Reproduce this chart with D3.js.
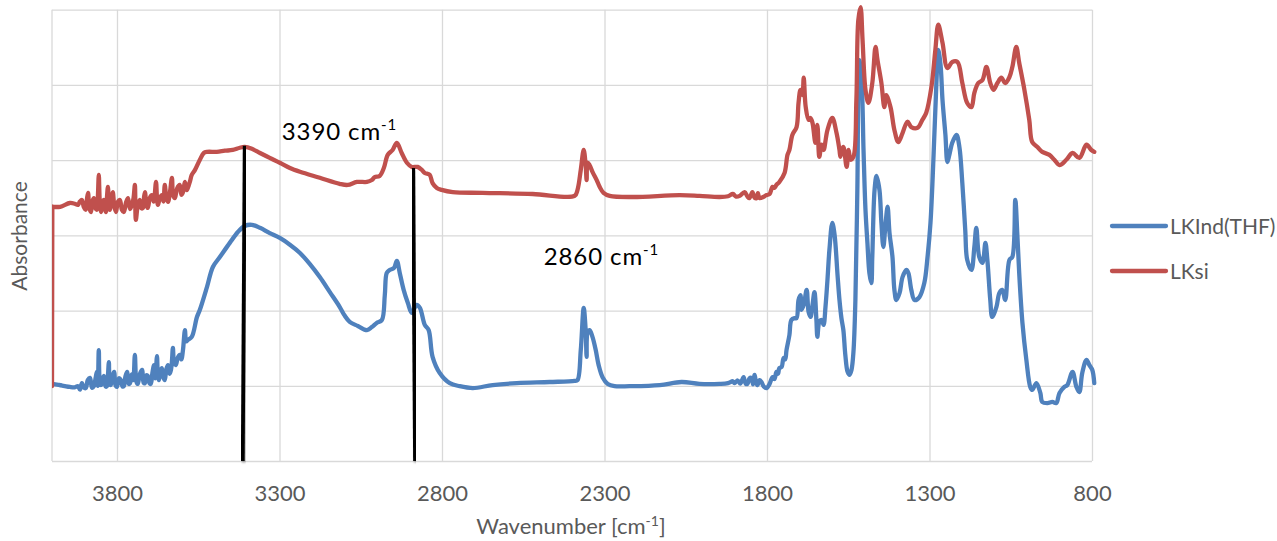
<!DOCTYPE html>
<html>
<head>
<meta charset="utf-8">
<script src="https://cdn.jsdelivr.net/npm/d3@7"></script>
<style>
  html, body { margin: 0; padding: 0; background: #fff; }
  svg { display: block; font-family: Lato, "Open Sans", sans-serif; }
</style>
</head>
<body>
<svg id="chart" width="1277" height="541"></svg>
<script>
// IR spectra: [wavenumber (cm-1), absorbance (a.u., offset for display)]
const lkInd = [
  [4000,0.205],[3975,0.202],[3945,0.197],[3930,0.196],
  [3920,0.199],[3914,0.190],[3908,0.207],[3902,0.195],[3896,0.194],[3890,0.215],[3883,0.221],[3877,0.195],
  [3871,0.199],[3866,0.220],[3862,0.237],[3859,0.200],[3856,0.295],[3852,0.205],[3849,0.202],[3844,0.220],
  [3840,0.226],[3835,0.198],[3831,0.199],[3828,0.225],[3825,0.263],[3822,0.205],[3819,0.202],[3814,0.225],
  [3809,0.237],[3804,0.200],[3800,0.197],[3794,0.220],[3788,0.215],[3783,0.198],[3779,0.199],[3774,0.225],
  [3769,0.237],[3764,0.205],[3760,0.207],[3755,0.230],[3750,0.215],[3745,0.282],[3740,0.210],[3736,0.205],
  [3730,0.230],[3723,0.242],[3718,0.208],[3714,0.207],[3709,0.228],[3705,0.226],[3700,0.207],[3696,0.205],
  [3691,0.235],[3686,0.255],[3682,0.220],[3677,0.279],[3674,0.225],[3671,0.215],[3666,0.240],[3662,0.247],
  [3657,0.222],[3653,0.215],[3648,0.245],[3643,0.255],[3638,0.232],[3634,0.242],[3631,0.265],[3628,0.301],
  [3624,0.260],[3619,0.255],[3613,0.275],[3607,0.282],[3602,0.270],[3597,0.295],[3591,0.348],[3587,0.318],
  [3582,0.322],
  [3570,0.330],[3554,0.383],[3545,0.402],[3523,0.463],[3505,0.516],[3483,0.543],[3453,0.580],[3428,0.609],
  [3407,0.625],[3385,0.628],[3360,0.620],[3330,0.606],[3299,0.593],[3268,0.575],[3237,0.553],[3207,0.524],
  [3176,0.489],[3145,0.449],[3115,0.410],[3099,0.386],[3084,0.370],[3059,0.359],[3031,0.348],[3016,0.356],
  [3001,0.367],[2985,0.375],[2976,0.441],[2970,0.500],[2961,0.508],[2948,0.513],[2939,0.532],[2930,0.500],
  [2918,0.455],[2905,0.420],[2893,0.394],[2878,0.415],[2868,0.407],[2853,0.362],[2841,0.348],[2829,0.277],
  [2807,0.234],[2776,0.207],[2746,0.199],[2705,0.194],[2644,0.202],[2570,0.207],[2469,0.210],[2392,0.213],
  [2383,0.215],[2373,0.295],[2364,0.407],[2358,0.348],[2355,0.277],[2352,0.343],[2346,0.348],[2337,0.330],
  [2327,0.295],[2318,0.255],[2306,0.223],[2290,0.205],[2269,0.199],[2223,0.199],[2130,0.202],[2063,0.210],
  [2008,0.205],[1946,0.205],[1920,0.207],[1905,0.212],[1900,0.207],[1890,0.214],[1882,0.206],[1872,0.223],
  [1866,0.206],[1860,0.205],[1854,0.220],[1848,0.221],[1843,0.204],[1838,0.229],[1833,0.206],[1829,0.202],
  [1823,0.215],[1817,0.210],[1810,0.198],[1801,0.194],[1792,0.205],[1783,0.223],[1777,0.218],[1771,0.237],
  [1766,0.232],[1762,0.247],[1755,0.250],[1749,0.274],[1744,0.270],[1740,0.295],
  [1731,0.335],[1725,0.375],[1715,0.380],[1709,0.380],[1703,0.428],[1697,0.441],[1694,0.402],[1687,0.415],
  [1678,0.455],[1672,0.396],[1666,0.383],[1660,0.415],[1654,0.449],[1648,0.375],[1645,0.330],[1639,0.370],
  [1632,0.375],[1626,0.362],[1620,0.410],[1614,0.481],[1608,0.561],[1599,0.633],[1592,0.601],[1583,0.495],
  [1577,0.428],[1571,0.380],[1565,0.348],[1559,0.282],[1552,0.237],[1546,0.229],[1540,0.242],[1534,0.290],
  [1528,0.428],[1522,0.721],[1516,1.066],[1509,1.013],[1503,0.827],[1497,0.668],[1491,0.580],[1485,0.500],
  [1479,0.473],[1476,0.543],[1469,0.721],[1463,0.758],[1454,0.721],[1448,0.633],[1442,0.569],[1436,0.622],
  [1429,0.676],[1423,0.606],[1414,0.543],[1408,0.455],[1402,0.428],[1392,0.447],[1383,0.489],[1371,0.508],
  [1365,0.500],[1356,0.455],[1346,0.428],[1331,0.436],[1316,0.473],[1306,0.543],[1297,0.633],[1288,0.801],
  [1279,1.000],[1273,1.093],[1266,1.053],[1260,0.960],[1251,0.867],[1245,0.795],[1239,0.814],[1230,0.846],
  [1217,0.867],[1208,0.835],[1199,0.739],[1190,0.614],[1184,0.535],[1171,0.508],[1162,0.569],[1156,0.620],
  [1147,0.543],[1137,0.527],[1128,0.580],[1122,0.535],[1113,0.428],[1107,0.383],[1094,0.410],[1085,0.447],
  [1076,0.455],[1067,0.428],[1054,0.535],[1045,0.543],[1036,0.694],[1030,0.606],[1024,0.500],[1014,0.367],
  [1002,0.269],[990,0.197],[984,0.189],[971,0.207],[959,0.181],[953,0.157],[937,0.154],[922,0.157],
  [910,0.154],[900,0.181],[885,0.197],[876,0.202],[860,0.237],[848,0.197],[839,0.183],[830,0.234],
  [817,0.269],[808,0.255],[799,0.242],[793,0.207]
];

const lkSi = [
  [4000,0.199],[3999,0.676],[3975,0.676],[3945,0.686],[3930,0.684],
  [3920,0.681],[3914,0.690],[3908,0.694],[3902,0.675],[3896,0.668],[3892,0.700],[3889,0.713],[3885,0.672],
  [3880,0.662],[3876,0.690],[3871,0.699],[3866,0.672],[3862,0.668],[3859,0.700],[3856,0.761],[3853,0.690],
  [3849,0.662],[3845,0.688],[3840,0.694],[3837,0.670],[3834,0.662],[3831,0.700],[3828,0.729],[3825,0.685],
  [3822,0.668],[3817,0.700],[3813,0.715],[3808,0.675],[3803,0.662],[3797,0.690],[3791,0.694],[3785,0.668],
  [3779,0.662],[3772,0.688],[3766,0.699],[3760,0.670],[3754,0.681],[3749,0.700],[3745,0.734],[3742,0.641],
  [3736,0.680],[3730,0.694],[3725,0.672],[3720,0.673],[3717,0.700],[3714,0.715],[3709,0.680],[3705,0.673],
  [3699,0.700],[3693,0.707],[3687,0.690],[3680,0.742],[3677,0.700],[3674,0.681],[3668,0.700],[3662,0.707],
  [3657,0.690],[3653,0.734],[3648,0.700],[3643,0.689],[3637,0.715],[3631,0.753],[3627,0.705],[3622,0.699],
  [3615,0.725],[3607,0.734],[3602,0.708],[3597,0.715],[3591,0.742],[3585,0.720],[3579,0.734],[3575,0.745],
  [3570,0.761],[3560,0.774],[3545,0.801],[3533,0.819],[3523,0.822],[3493,0.822],[3468,0.825],
  [3444,0.827],[3422,0.833],[3407,0.835],[3385,0.830],[3360,0.819],[3330,0.806],[3299,0.793],[3268,0.779],
  [3237,0.769],[3176,0.753],[3115,0.737],[3090,0.734],[3062,0.742],[3031,0.742],[3016,0.747],[3007,0.755],
  [2992,0.758],[2979,0.779],[2967,0.814],[2952,0.827],[2939,0.846],[2924,0.819],[2908,0.793],[2893,0.782],
  [2875,0.782],[2862,0.774],[2853,0.766],[2838,0.761],[2829,0.739],[2816,0.726],[2801,0.721],[2767,0.715],
  [2675,0.713],[2521,0.710],[2392,0.705],[2383,0.721],[2373,0.774],[2364,0.827],[2358,0.787],[2355,0.747],
  [2352,0.793],[2346,0.787],[2337,0.769],[2324,0.747],[2315,0.729],[2303,0.713],[2284,0.705],[2213,0.702],
  [2069,0.707],[2008,0.705],[1946,0.702],[1920,0.704],[1905,0.710],[1895,0.703],[1884,0.705],[1869,0.715],
  [1860,0.703],[1854,0.699],[1845,0.715],[1838,0.700],[1832,0.699],[1828,0.712],
  [1823,0.699],[1801,0.707],[1792,0.710],[1783,0.729],[1777,0.726],[1771,0.734],[1762,0.742],[1746,0.766],[1737,0.814],
  [1731,0.827],[1722,0.867],[1709,0.888],[1703,0.952],[1697,0.987],[1691,0.973],[1687,1.019],[1681,0.942],
  [1672,0.907],[1666,0.912],[1660,0.899],[1651,0.846],[1645,0.894],[1639,0.809],[1632,0.841],[1626,0.827],
  [1614,0.880],[1599,0.912],[1586,0.872],[1577,0.827],[1574,0.809],[1565,0.835],[1555,0.782],[1549,0.827],
  [1543,0.801],[1534,0.809],[1525,0.960],[1519,1.173],[1512,1.207],[1506,1.120],[1497,0.987],[1488,0.952],
  [1476,1.005],[1466,1.101],[1460,1.066],[1448,1.005],[1439,0.941],[1433,0.973],[1420,0.941],[1408,0.880],
  [1396,0.848],[1383,0.872],[1368,0.902],[1356,0.888],[1337,0.886],[1322,0.907],[1310,0.926],[1294,0.995],
  [1282,1.093],[1273,1.160],[1260,1.112],[1245,1.045],[1230,1.061],[1214,1.061],[1199,1.005],[1184,0.952],
  [1171,0.941],[1162,0.979],[1150,1.005],[1137,1.013],[1125,1.048],[1113,1.005],[1103,0.987],[1091,1.005],
  [1079,1.019],[1067,1.005],[1054,1.021],[1045,1.048],[1033,1.101],[1024,1.059],[1008,0.987],[993,0.907],
  [984,0.848],[968,0.835],[953,0.822],[931,0.814],[916,0.801],[900,0.787],[879,0.801],[860,0.819],
  [839,0.806],[817,0.841],[802,0.827],[793,0.822]
];

const seriesNames = ["LKInd(THF)", "LKsi"];
const seriesColors = ["#4F81BD", "#C0504D"];
const xTickValues = [3800, 3300, 2800, 2300, 1800, 1300, 800];
const yGridValues = [0, 0.2, 0.4, 0.6, 0.8, 1.0, 1.2];

// Hand-drawn peak markers and their labels
const markerLines = [
  [[3407, 0.838], [3413, 0]],
  [[2889, 0.779], [2883, 0]]
];
const markerLabels = [
  { text: "3390 cm", sup: "-1", wn: 3293, abs: 0.854 },
  { text: "2860 cm", sup: "-1", wn: 2487, abs: 0.521 }
];

const svg = d3.select("#chart");
const plot = { left: 52, right: 1092, top: 9.7, bottom: 461 };

const x = d3.scaleLinear().domain([4000, 800]).range([plot.left, plot.right]);
const y = d3.scaleLinear().domain([0, 1.2]).range([plot.bottom, plot.top]);

const gridColor = "#D9D9D9";

// horizontal gridlines
svg.append("g")
  .attr("transform", `translate(${plot.left},0)`)
  .call(d3.axisLeft(y).tickValues(yGridValues).tickSize(-(plot.right - plot.left)).tickFormat(""))
  .call(g => g.select(".domain").remove())
  .call(g => g.selectAll("line").attr("stroke", gridColor).attr("stroke-width", 1.3));

// vertical gridlines + bottom tick labels
svg.append("g")
  .attr("transform", `translate(0,${plot.bottom})`)
  .call(d3.axisBottom(x).tickValues(xTickValues).tickSize(-(plot.bottom - plot.top)).tickPadding(24).tickFormat(d3.format("d")))
  .call(g => g.select(".domain").remove())
  .call(g => g.selectAll("line").attr("stroke", gridColor).attr("stroke-width", 1.3))
  .call(g => g.selectAll("text").attr("fill", "#595959").style("font-size", "22px").style("font-family", "Lato, sans-serif"));

// left frame edge at 4000 cm-1
svg.append("line")
  .attr("x1", x(4000)).attr("x2", x(4000))
  .attr("y1", y(0)).attr("y2", y(1.2))
  .attr("stroke", gridColor).attr("stroke-width", 1.3);

// clip only on the left edge of the plot area
svg.append("clipPath").attr("id", "leftClip")
  .append("rect").attr("x", plot.left).attr("y", 0).attr("width", 1277 - plot.left).attr("height", 541);

const spectrumLine = d3.line().x(d => x(d[0])).y(d => y(d[1])).curve(d3.curveCatmullRom.alpha(0.5));
const straightLine = d3.line().x(d => x(d[0])).y(d => y(d[1]));

// Each spectrum: a straight lead-in segment from the first point, then a smooth trace
const seriesGroup = svg.append("g").attr("clip-path", "url(#leftClip)");
[lkInd, lkSi].forEach((data, i) => {
  const g = seriesGroup.append("g")
    .attr("fill", "none")
    .attr("stroke", seriesColors[i])
    .attr("stroke-width", 4.3)
    .attr("stroke-linejoin", "round")
    .attr("stroke-linecap", "round");
  g.append("path").datum(data.slice(0, 2)).attr("d", straightLine);
  g.append("path").datum(data.slice(1)).attr("d", spectrumLine);
});

// marker lines with a soft shadow
const defs = svg.append("defs");
const shadow = defs.append("filter").attr("id", "softShadow")
  .attr("x", "-50%").attr("y", "-10%").attr("width", "200%").attr("height", "120%");
shadow.append("feDropShadow")
  .attr("dx", 1).attr("dy", 1.5).attr("stdDeviation", 1.2)
  .attr("flood-color", "#000").attr("flood-opacity", 0.35);

svg.append("g").selectAll("path")
  .data(markerLines)
  .join("path")
  .attr("d", straightLine)
  .attr("fill", "none")
  .attr("stroke", "#000")
  .attr("stroke-width", 3.8)
  .attr("filter", "url(#softShadow)");

// marker labels
const labels = svg.append("g").selectAll("text")
  .data(markerLabels)
  .join("text")
  .attr("x", d => x(d.wn))
  .attr("y", d => y(d.abs))
  .attr("fill", "#000")
  .style("font-size", "24px")
  .style("font-family", "Lato, sans-serif")
  .style("letter-spacing", "0.9px");
labels.append("tspan").text(d => d.text);
labels.append("tspan").text(d => d.sup).attr("dy", -10).style("font-size", "15px");

// axis titles
const title = svg.append("text")
  .attr("x", 571).attr("y", 534)
  .attr("text-anchor", "middle")
  .attr("fill", "#595959")
  .style("font-size", "22px");
title.append("tspan").text("Wavenumber [cm");
title.append("tspan").text("-1").attr("dy", -8).style("font-size", "14px");
title.append("tspan").text("]").attr("dy", 8);

svg.append("text")
  .attr("transform", "translate(27,236) rotate(-90)")
  .attr("text-anchor", "middle")
  .attr("fill", "#595959")
  .style("font-size", "21px")
  .text("Absorbance");

// legend
const legend = svg.append("g");
seriesNames.forEach((name, i) => {
  const ly = 226 + i * 45;
  legend.append("line")
    .attr("x1", 1112).attr("x2", 1166).attr("y1", ly).attr("y2", ly)
    .attr("stroke", seriesColors[i]).attr("stroke-width", 4.3).attr("stroke-linecap", "round");
  legend.append("text")
    .attr("x", 1170).attr("y", ly).attr("dy", "0.36em")
    .attr("fill", "#595959")
    .style("font-size", "21px")
    .text(name);
});
</script>
</body>
</html>
